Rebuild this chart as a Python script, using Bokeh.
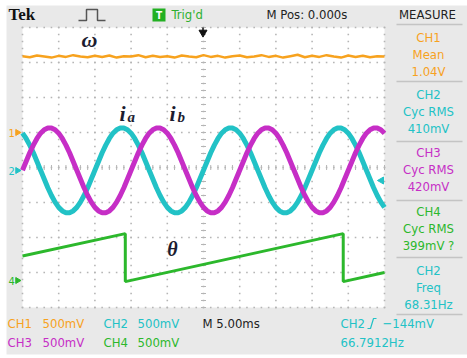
import numpy as np
from bokeh.plotting import figure
from bokeh.models import Range1d, ColumnDataSource
from bokeh.core.properties import value
from bokeh.embed import file_html
from bokeh.resources import INLINE

# ---------------- data (read from the screen, in divisions) ----------------
# time base: 5 ms/div, 10 divisions, trigger at centre
ia_div = [
    0.98, 0.83, 0.64, 0.42, 0.17, -0.08, -0.33, -0.58, -0.80, -0.99,
    -1.14, -1.24, -1.29, -1.29, -1.24, -1.14, -0.99, -0.80, -0.58, -0.33,
    -0.08, 0.17, 0.42, 0.64, 0.83, 0.98, 1.08, 1.13, 1.13, 1.08,
    0.98, 0.83, 0.64, 0.42, 0.17, -0.08, -0.33, -0.58, -0.80, -0.99,
    -1.14, -1.24, -1.29, -1.29, -1.24, -1.14, -0.99, -0.80, -0.58, -0.33,
    -0.08, 0.17, 0.42, 0.64, 0.83, 0.98, 1.08, 1.13, 1.13, 1.08,
    0.98, 0.83, 0.64, 0.42, 0.17, -0.08, -0.33, -0.58, -0.80, -0.99,
    -1.14, -1.24, -1.29, -1.29, -1.24, -1.14, -0.99, -0.80, -0.58, -0.33,
    -0.08, 0.17, 0.42, 0.64, 0.83, 0.98, 1.08, 1.13, 1.13, 1.08,
    0.98, 0.83, 0.64, 0.42, 0.17, -0.08, -0.33, -0.58, -0.80, -0.99,
    -1.14]
ib_div = [
    -0.08, 0.17, 0.42, 0.64, 0.83, 0.98, 1.08, 1.13, 1.13, 1.08,
    0.98, 0.83, 0.64, 0.42, 0.17, -0.08, -0.33, -0.58, -0.80, -0.99,
    -1.14, -1.24, -1.29, -1.29, -1.24, -1.14, -0.99, -0.80, -0.58, -0.33,
    -0.08, 0.17, 0.42, 0.64, 0.83, 0.98, 1.08, 1.13, 1.13, 1.08,
    0.98, 0.83, 0.64, 0.42, 0.17, -0.08, -0.33, -0.58, -0.80, -0.99,
    -1.14, -1.24, -1.29, -1.29, -1.24, -1.14, -0.99, -0.80, -0.58, -0.33,
    -0.08, 0.17, 0.42, 0.64, 0.83, 0.98, 1.08, 1.13, 1.13, 1.08,
    0.98, 0.83, 0.64, 0.42, 0.17, -0.08, -0.33, -0.58, -0.80, -0.99,
    -1.14, -1.24, -1.29, -1.29, -1.24, -1.14, -0.99, -0.80, -0.58, -0.33,
    -0.08, 0.17, 0.42, 0.64, 0.83, 0.98, 1.08, 1.13, 1.13, 1.08,
    0.98]
omega_div = [
    3.18, 3.15, 3.20, 3.17, 3.14, 3.19, 3.16, 3.21, 3.17, 3.15,
    3.19, 3.16, 3.20, 3.14, 3.18, 3.17, 3.21, 3.15, 3.19, 3.16,
    3.18, 3.14, 3.20, 3.17, 3.15, 3.21, 3.16, 3.19, 3.14, 3.18,
    3.20, 3.15, 3.17, 3.21, 3.16, 3.19, 3.14, 3.18, 3.22, 3.15,
    3.19, 3.16, 3.21, 3.17, 3.14, 3.20, 3.16, 3.19, 3.15, 3.18,
    3.17]
theta_t = [-25.0, -10.8, -10.8, 19.3, 19.3, 25.0]
theta_div = [-2.53, -1.89, -3.26, -1.89, -3.26, -3.00]

t_sine = [-25 + 50 * j / (len(ia_div) - 1) for j in range(len(ia_div))]
t_omega = [-25 + 50 * j / (len(omega_div) - 1) for j in range(len(omega_div))]

measure_labels = [("CH1", "Mean", "1.04V"), ("CH2", "Cyc RMS", "410mV"),
                  ("CH3", "Cyc RMS", "420mV"), ("CH4", "Cyc RMS", "399mV ?"),
                  ("CH2", "Freq", "68.31Hz")]

# ---------------- layout constants ----------------
W, H = 467, 358
LEFT, RIGHT, TOP, BOTTOM = 22, 384, 27, 307
PX_PER_MS = (RIGHT - LEFT) / 50.0
PX_PER_DIV = (BOTTOM - TOP) / 8.0
YC = (TOP + BOTTOM) / 2.0

ORANGE = "#f7a21e"
CYAN = "#22c2c6"
MAGENTA = "#c62ec6"
GREEN = "#2cb82c"
TXT_FONT = value("DejaVu Sans Condensed")

p = figure(width=W, height=H, output_backend="svg", toolbar_location=None,
           x_axis_type=None, y_axis_type=None,
           x_range=Range1d(-25 - LEFT / PX_PER_MS, -25 + (W - LEFT) / PX_PER_MS),
           y_range=Range1d((YC - H) / PX_PER_DIV, YC / PX_PER_DIV),
           min_border=0, min_border_left=0, min_border_right=0,
           min_border_top=0, min_border_bottom=0)
p.extra_x_ranges = {"px": Range1d(0, W)}
p.extra_y_ranges = {"px": Range1d(H, 0)}
p.outline_line_color = None
p.background_fill_color = "white"
p.border_fill_color = "white"
p.grid.visible = False

PX = dict(x_range_name="px", y_range_name="px")

# background panels
p.quad(left=[6], right=[W], top=[5], bottom=[354], fill_color="#e9e9e9",
       line_color=None, **PX)
p.quad(left=[LEFT], right=[RIGHT], top=[TOP], bottom=[BOTTOM],
       fill_color="white", line_color=None, **PX)

# graticule dots
gx, gy = [], []
for t in range(-25, 26, 5):
    for d in np.arange(-4, 4.001, 0.2):
        gx.append(t); gy.append(d)
for d in range(-4, 5):
    for t in range(-25, 26):
        gx.append(t); gy.append(d)
p.scatter(gx, gy, marker="square", size=1.6, color="#b5b5b5", line_color=None)
# centre-line ticks
p.scatter([0] * 41, list(np.arange(-4, 4.001, 0.2)), marker="dash", size=5,
          line_color="#b5b5b5", line_width=1)
p.scatter(list(range(-25, 26)), [0] * 51, marker="dash", size=5, angle=np.pi / 2,
          line_color="#b5b5b5", line_width=1)

# traces
p.line(t_omega, omega_div, line_color=ORANGE, line_width=2.5)
p.line(t_sine, ia_div, line_color=CYAN, line_width=5)
p.line(t_sine, ib_div, line_color=MAGENTA, line_width=5)
p.line(theta_t, theta_div, line_color=GREEN, line_width=3)


def txt(x, y, s, color, size, font=TXT_FONT, align="left", style="normal",
        baseline="middle"):
    p.text(x=[x], y=[y], text=[s], text_color=color, text_font=font,
           text_font_size=size, text_align=align, text_baseline=baseline,
           text_font_style=style, **PX)


# top bar
txt(8, 14, "Tek", "#111111", "17px", font=value("Liberation Serif"), style="bold")
p.line([78, 86, 86, 97, 97, 105], [20, 20, 9, 9, 20, 20], line_color="#555555",
       line_width=1.5, **PX)
p.quad(left=[152], right=[165], top=[8], bottom=[21], fill_color="#22b022",
       line_color=None, **PX)
txt(158.5, 15, "T", "white", "10px", align="center", style="bold")
txt(171, 14, "Trig'd", "#2fb02f", "13px")
txt(266, 14, "M Pos: 0.000s", "#222222", "13px")
txt(427, 14, "MEASURE", "#222222", "13px", align="center")

# trigger position arrow
p.line([202.5, 202.5], [27, 31], line_color="#111111", line_width=1.5, **PX)
p.scatter([202.5], [32], marker="inverted_triangle", size=8, color="#111111", **PX)

# right measurement panel
sep_y = [24, 81, 141, 200, 257, 314]
for yy in sep_y:
    p.line([396, 462], [yy, yy], line_color="#c4c4c4", line_width=1.5, **PX)
colors = [ORANGE, CYAN, MAGENTA, GREEN, CYAN]
row_y = [37, 94, 152, 211, 270]
for (a, b, c), col, y0 in zip(measure_labels, colors, row_y):
    txt(428, y0, a, col, "13px", align="center")
    txt(428, y0 + 17, b, col, "13px", align="center")
    txt(428, y0 + 34, c, col, "13px", align="center")

# channel ground markers (left) and trigger level (right)
for lab, col, yy in [("1", ORANGE, 132), ("2", CYAN, 170), ("4", GREEN, 280)]:
    txt(8, yy, lab, col, "11px")
    p.scatter([17], [yy], marker="triangle", angle=-np.pi / 2, size=6, color=col, **PX)
p.scatter([381], [180], marker="triangle", angle=np.pi / 2, size=7, color=CYAN, **PX)

# bottom status lines
txt(7, 323, "CH1", ORANGE, "13px")
txt(42, 323, "500mV", ORANGE, "13px")
txt(103, 323, "CH2", CYAN, "13px")
txt(137, 323, "500mV", CYAN, "13px")
txt(202, 323, "M 5.00ms", "#222222", "13px")
txt(340, 323, "CH2", CYAN, "13px")
p.line([367, 370, 373, 376], [328, 328, 318, 318], line_color=CYAN, line_width=1.2, **PX)
txt(382, 323, "\u2212144mV", CYAN, "13px")
txt(7, 342, "CH3", MAGENTA, "13px")
txt(42, 342, "500mV", MAGENTA, "13px")
txt(103, 342, "CH4", GREEN, "13px")
txt(137, 342, "500mV", GREEN, "13px")
txt(340, 342, "66.7912Hz", CYAN, "13px")

# trace annotations
SERIF = value("Liberation Serif")
LBL = "#1c1c30"
txt(89, 39, "\u03c9", LBL, "22px", font=SERIF, align="center", style="bold italic")
txt(119, 113, "i", LBL, "22px", font=SERIF, style="bold italic", baseline="alphabetic")
txt(127, 116, "a", LBL, "15px", font=SERIF, style="bold italic", baseline="alphabetic")
txt(169, 113, "i", LBL, "22px", font=SERIF, style="bold italic", baseline="alphabetic")
txt(177, 116, "b", LBL, "15px", font=SERIF, style="bold italic", baseline="alphabetic")
txt(172, 248, "\u03b8", LBL, "20px", font=SERIF, align="center", style="bold italic")

open("out.html", "w").write(file_html(p, INLINE))
